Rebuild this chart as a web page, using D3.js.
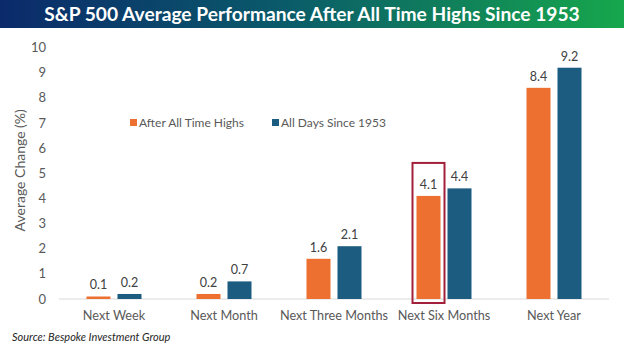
<!DOCTYPE html>
<html>
<head>
<meta charset="utf-8">
<script src="https://cdn.jsdelivr.net/npm/d3@7"></script>
<style>
  body { margin: 0; background: #fff; }
  svg text { font-family: Lato, "Open Sans", sans-serif; }
</style>
</head>
<body>
<div id="chart"></div>
<script>
// Average S&P 500 change by horizon
const horizons = ['Next Week', 'Next Month', 'Next Three Months', 'Next Six Months', 'Next Year'];
const afterHighs = [0.1, 0.2, 1.6, 4.1, 8.4];
const allDays = [0.2, 0.7, 2.1, 4.4, 9.2];
const seriesNames = ['After All Time Highs', 'All Days Since 1953'];
const yTicks = [0, 1, 2, 3, 4, 5, 6, 7, 8, 9, 10];

const svgWidth = 624, svgHeight = 348;
const colors = ['#ed7031', '#1b5c80'];

const svg = d3.select('#chart').append('svg')
  .attr('width', svgWidth)
  .attr('height', svgHeight);

// title banner
const grad = svg.append('defs').append('linearGradient')
  .attr('id', 'banner').attr('x1', '0%').attr('x2', '100%');
grad.append('stop').attr('offset', '0%').attr('stop-color', '#0b2a6b');
grad.append('stop').attr('offset', '45%').attr('stop-color', '#0a5a6a');
grad.append('stop').attr('offset', '100%').attr('stop-color', '#16a74c');

svg.append('rect')
  .attr('x', 0).attr('y', 0)
  .attr('width', svgWidth).attr('height', 28)
  .attr('fill', 'url(#banner)');

const title = svg.append('text')
  .attr('x', 312).attr('y', 21)
  .attr('text-anchor', 'middle')
  .attr('fill', '#fff')
  .attr('font-weight', 'bold')
  .attr('font-size', '20px')
  .text('S&P 500 Average Performance After All Time Highs Since 1953');
// shrink to fit banner width
const tw = title.node().getComputedTextLength();
title.attr('font-size', (20 * 536 / tw) + 'px');

// scales
const x0 = d3.scaleBand().domain(horizons).range([59, 609]);
const y = d3.scaleLinear().domain([0, 10]).range([299, 47.6]);
const barW = 24, gap = 7;

// y axis tick labels only
svg.append('g').selectAll('text')
  .data(yTicks)
  .enter().append('text')
  .attr('x', 46)
  .attr('y', d => y(d))
  .attr('dy', '0.35em')
  .attr('text-anchor', 'end')
  .attr('font-size', '13px')
  .attr('fill', '#595959')
  .text(d => d);

svg.append('text')
  .attr('transform', `translate(25, ${y(5) - 3}) rotate(-90)`)
  .attr('text-anchor', 'middle')
  .attr('font-size', '14px')
  .attr('fill', '#595959')
  .text('Average Change (%)');

// baseline
svg.append('line')
  .attr('x1', 59).attr('x2', 609)
  .attr('y1', y(0)).attr('y2', y(0))
  .attr('stroke', '#d9d9d9').attr('stroke-width', 1);

// bars
const series = [afterHighs, allDays];
series.forEach((vals, s) => {
  const xOff = s === 0 ? -gap / 2 - barW : gap / 2;
  const g = svg.append('g');
  g.selectAll('rect')
    .data(vals)
    .enter().append('rect')
    .attr('x', (d, i) => x0(horizons[i]) + x0.bandwidth() / 2 + xOff)
    .attr('y', d => y(d))
    .attr('width', barW)
    .attr('height', d => y(0) - y(d))
    .attr('fill', colors[s]);
  g.selectAll('text')
    .data(vals)
    .enter().append('text')
    .attr('x', (d, i) => x0(horizons[i]) + x0.bandwidth() / 2 + xOff + barW / 2)
    .attr('y', d => y(d) - 7)
    .attr('text-anchor', 'middle')
    .attr('font-size', '12.5px')
    .attr('fill', '#404040')
    .text(d => d.toFixed(1));
});

// highlight box around six-month after-high bar
const hx = x0('Next Six Months') + x0.bandwidth() / 2 - gap / 2 - barW;
svg.append('rect')
  .attr('x', hx - 4).attr('y', y(afterHighs[3]) - 33)
  .attr('width', barW + 8)
  .attr('height', y(0) - y(afterHighs[3]) + 37)
  .attr('fill', 'none')
  .attr('stroke', '#a3203a')
  .attr('stroke-width', 2);

// category labels
svg.append('g').selectAll('text')
  .data(horizons)
  .enter().append('text')
  .attr('x', d => x0(d) + x0.bandwidth() / 2)
  .attr('y', 320)
  .attr('text-anchor', 'middle')
  .attr('font-size', '12.7px')
  .attr('fill', '#595959')
  .text(d => d);

// legend
const legendX = [130, 272];
seriesNames.forEach((name, s) => {
  svg.append('rect')
    .attr('x', legendX[s]).attr('y', 119)
    .attr('width', 7).attr('height', 7)
    .attr('fill', colors[s]);
  svg.append('text')
    .attr('x', legendX[s] + 9).attr('y', 127)
    .attr('font-size', '12px')
    .attr('fill', '#595959')
    .text(name);
});

// source
svg.append('text')
  .attr('x', 12).attr('y', 341)
  .attr('font-size', '11px')
  .attr('font-style', 'italic')
  .attr('fill', '#262626')
  .text('Source: Bespoke Investment Group');
</script>
</body>
</html>
